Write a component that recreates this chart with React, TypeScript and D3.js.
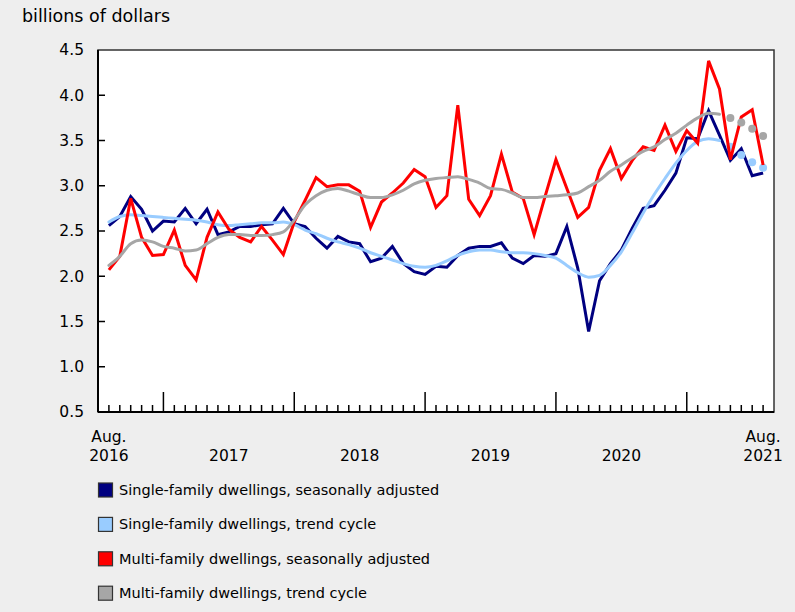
import React from "react";
import * as d3 from "d3";

const months: Date[] = d3.timeMonth.range(new Date(2016, 7, 1), new Date(2021, 8, 1));

const singleSA = [
  2.56, 2.66, 2.88, 2.74, 2.50, 2.61, 2.60, 2.75, 2.58, 2.74, 2.46, 2.49,
  2.55, 2.55, 2.57, 2.58, 2.75, 2.58, 2.55, 2.42, 2.31, 2.44, 2.38, 2.36,
  2.16, 2.20, 2.33, 2.14, 2.05, 2.02, 2.11, 2.10, 2.23, 2.31, 2.33, 2.33,
  2.37, 2.20, 2.14, 2.23, 2.22, 2.25, 2.55, 2.09, 1.39, 1.95, 2.14, 2.29,
  2.53, 2.75, 2.78, 2.95, 3.14, 3.53, 3.52, 3.83, 3.56, 3.28, 3.41, 3.11, 3.14,
];
const singleTrend = [
  2.60, 2.66, 2.68, 2.67, 2.66, 2.65, 2.64, 2.63, 2.62, 2.60, 2.57, 2.56,
  2.57, 2.58, 2.59, 2.59, 2.60, 2.57, 2.51, 2.47, 2.42, 2.38, 2.35, 2.31,
  2.26, 2.22, 2.18, 2.14, 2.11, 2.10, 2.12, 2.17, 2.23, 2.27, 2.29, 2.29,
  2.27, 2.26, 2.26, 2.25, 2.23, 2.20, 2.12, 2.04, 1.99, 2.01, 2.12, 2.27,
  2.48, 2.70, 2.90, 3.08, 3.25, 3.39, 3.49, 3.52, 3.50, 3.43, 3.34, 3.26, 3.20,
];
const multiSA = [
  2.07, 2.22, 2.86, 2.43, 2.23, 2.24, 2.51, 2.12, 1.96, 2.43, 2.71, 2.52,
  2.43, 2.38, 2.55, 2.40, 2.24, 2.60, 2.84, 3.09, 2.99, 3.01, 3.01, 2.94,
  2.54, 2.82, 2.92, 3.03, 3.18, 3.10, 2.76, 2.89, 3.89, 2.85, 2.67, 2.89,
  3.35, 2.93, 2.86, 2.46, 2.88, 3.29, 2.97, 2.65, 2.76, 3.17, 3.41, 3.08,
  3.28, 3.43, 3.39, 3.67, 3.38, 3.61, 3.47, 4.38, 4.07, 3.29, 3.76, 3.84, 3.23,
];
const multiTrend = [
  2.12, 2.22, 2.36, 2.40, 2.38, 2.33, 2.31, 2.28, 2.29, 2.36, 2.43, 2.46,
  2.46, 2.45, 2.45, 2.46, 2.49, 2.62, 2.79, 2.89, 2.95, 2.97, 2.94, 2.90,
  2.87, 2.87, 2.90, 2.95, 3.02, 3.06, 3.08, 3.09, 3.10, 3.07, 3.03, 2.97,
  2.96, 2.92, 2.87, 2.87, 2.88, 2.89, 2.90, 2.92, 2.99, 3.06, 3.16, 3.23,
  3.31, 3.38, 3.43, 3.51, 3.58, 3.67, 3.75, 3.80, 3.79, 3.75, 3.70, 3.63, 3.55,
];
// number of trailing trend-cycle points shown as dots (provisional)
const provisionalCount = 4;

const yTicks = [0.5, 1.0, 1.5, 2.0, 2.5, 3.0, 3.5, 4.0, 4.5];
const yearLabels = ["2017", "2018", "2019", "2020"];
const legendLabels = [
  "Single-family dwellings, seasonally adjusted",
  "Single-family dwellings, trend cycle",
  "Multi-family dwellings, seasonally adjusted",
  "Multi-family dwellings, trend cycle",
];
const colors = ["#000080", "#99ccff", "#ff0000", "#a6a6a6"];

const W = 795, H = 612;
const L = 98, R = 774, T = 50, B = 412;
const FONT = "'DejaVu Sans', Verdana, sans-serif";

export default function App() {
  const idx = months.map((_, i) => i);
  const x = d3.scalePoint<number>().domain(idx).range([L, R]).padding(1);
  const y = d3.scaleLinear().domain([0.5, 4.5]).range([B, T]);
  const n = months.length;
  const solidEnd = n - provisionalCount; // exclusive

  const lineSA = d3.line<number>().x((_, i) => x(i)!).y((d) => y(d)).curve(d3.curveLinear);
  const lineTrend = (vals: number[]) =>
    d3.line<number>()
      .x((_, i) => x(i)!)
      .y((d) => y(d))
      .curve(d3.curveMonotoneX)(vals.slice(0, solidEnd));

  const janIdx = idx.filter((i) => months[i].getMonth() === 0);

  const series = [
    { vals: singleSA, trend: false },
    { vals: singleTrend, trend: true },
    { vals: multiSA, trend: false },
    { vals: multiTrend, trend: true },
  ];

  return (
    <div style={{ position: "absolute", left: 0, top: 0 }}>
      <svg width={W} height={H} style={{ display: "block" }} fontFamily={FONT}>
        <rect x={0} y={0} width={W} height={H} fill="#eeeeee" />
        <text x={22} y={22} fontSize={17.5} fill="#000">billions of dollars</text>
        <rect x={L} y={T} width={R - L} height={B - T} fill="#ffffff" stroke="#333" strokeWidth={1.5} />

        {/* y ticks & labels */}
        {yTicks.map((t) => (
          <g key={t}>
            {t > 0.5 && t < 4.5 && (
              <line x1={L} x2={L + 7} y1={y(t)} y2={y(t)} stroke="#000" strokeWidth={1.5} />
            )}
            <text x={84} y={y(t)} dy="0.35em" textAnchor="end" fontSize={15.5} fill="#000">
              {t.toFixed(1)}
            </text>
          </g>
        ))}

        {/* x ticks */}
        {idx.map((i) => {
          const major = months[i].getMonth() === 0;
          return (
            <line key={i} x1={x(i)} x2={x(i)} y1={B} y2={B - (major ? 20 : 7)} stroke="#000" strokeWidth={1.5} />
          );
        })}

        {/* axis lines */}
        <line x1={L} x2={L} y1={T} y2={B} stroke="#000" strokeWidth={2} />
        <line x1={L} x2={R} y1={B} y2={B} stroke="#000" strokeWidth={2} />

        {/* x labels */}
        <text x={x(0)} y={442} textAnchor="middle" fontSize={15.5}>Aug.</text>
        <text x={x(0)} y={461} textAnchor="middle" fontSize={15.5}>2016</text>
        {janIdx.slice(0, yearLabels.length).map((j, k) => {
          const next = janIdx[k + 1];
          const cx = (x(j)! + x(next)!) / 2;
          return (
            <text key={j} x={cx} y={461} textAnchor="middle" fontSize={15.5}>{yearLabels[k]}</text>
          );
        })}
        <text x={x(n - 1)} y={442} textAnchor="middle" fontSize={15.5}>Aug.</text>
        <text x={x(n - 1)} y={461} textAnchor="middle" fontSize={15.5}>2021</text>

        {/* series */}
        {series.map((s, k) =>
          s.trend ? (
            <g key={k}>
              <path d={lineTrend(s.vals) || ""} fill="none" stroke={colors[k]} strokeWidth={3} strokeLinejoin="round" strokeLinecap="round" />
              {s.vals.slice(solidEnd).map((v, j) => (
                <circle key={j} cx={x(solidEnd + j)} cy={y(v)} r={4} fill={colors[k]} />
              ))}
            </g>
          ) : (
            <path key={k} d={lineSA(s.vals) || ""} fill="none" stroke={colors[k]} strokeWidth={3} strokeLinejoin="miter" />
          )
        )}

        {/* legend */}
        {legendLabels.map((lab, k) => {
          const cy = 490 + k * 34.4;
          return (
            <g key={lab}>
              <rect x={98.5} y={cy - 7} width={14} height={14} fill={colors[k]} stroke="#333" strokeWidth={1.2} />
              <text x={119} y={cy} dy="0.35em" fontSize={14.5} fill="#000">{lab}</text>
            </g>
          );
        })}
      </svg>
    </div>
  );
}
